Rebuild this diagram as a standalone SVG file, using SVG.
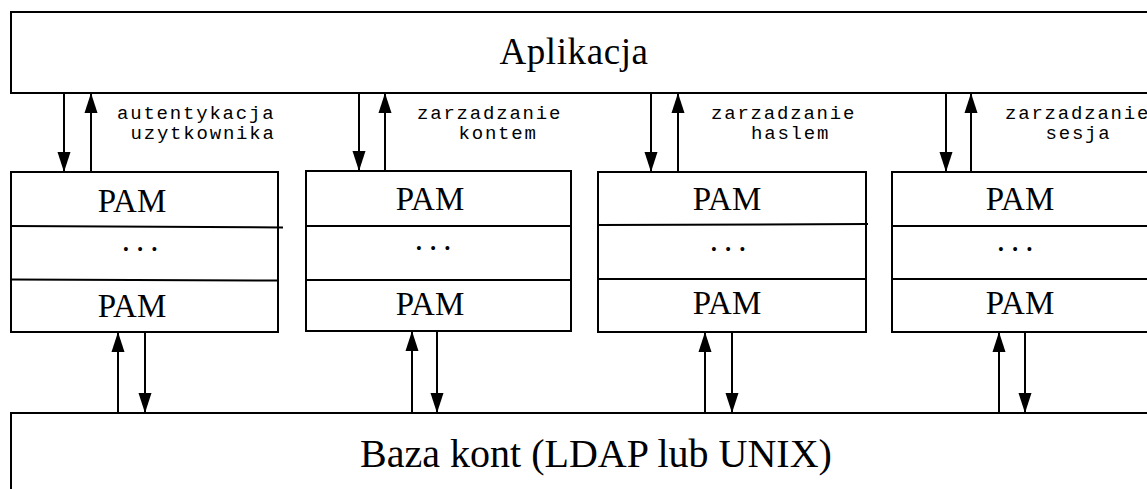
<svg xmlns="http://www.w3.org/2000/svg" width="1147" height="489" viewBox="0 0 1147 489">
  <style>
    .box { fill: #fff; stroke: #000; stroke-width: 2; }
    .div { stroke: #000; stroke-width: 2; fill: none; }
    .serif { font-family: "Liberation Serif", "Times New Roman", serif; fill: #000; }
    .pam { font-size: 33px; text-anchor: middle; }
    .dots { font-size: 33px; text-anchor: middle; letter-spacing: 6px; }
    .mono { font-family: "Liberation Mono", "Courier New", monospace; font-size: 19px; letter-spacing: 1.8px; fill: #000; }
    .conn { stroke: #000; stroke-width: 2; fill: none; marker-end: url(#head); }
  </style>
  <defs>
    <marker id="head" markerUnits="userSpaceOnUse" markerWidth="20" markerHeight="14" viewBox="0 0 20 14" refX="19" refY="7" orient="auto">
      <path d="M0,0.5 L20,7 L0,13.5 Z" fill="#000"/>
    </marker>
  </defs>
  <rect width="1147" height="489" fill="#fff"/>

  <!-- application layer -->
  <g id="aplikacja">
    <rect class="box" x="11" y="12" width="1150" height="81"/>
    <text class="serif" x="574" y="64" font-size="37" text-anchor="middle" letter-spacing="0.6">Aplikacja</text>
  </g>

  <!-- account database -->
  <g id="baza">
    <rect class="box" x="11" y="413" width="1150" height="90"/>
    <text class="serif" x="596" y="467" font-size="40" text-anchor="middle">Baza kont (LDAP lub UNIX)</text>
  </g>

  <!-- PAM module stacks -->
  <g id="pam-auth">
    <rect class="box" x="11" y="172" width="267" height="160"/>
    <path class="div" d="M11,226 L283,227.5 M11,279.5 L278,280.5"/>
    <text class="serif pam" x="132" y="212">PAM</text>
    <text class="serif dots" x="143" y="251">...</text>
    <text class="serif pam" x="132" y="317">PAM</text>
  </g>
  <g id="pam-konto">
    <rect class="box" x="306" y="171" width="265" height="160"/>
    <path class="div" d="M306,226 L571,226 M306,280 L571,280"/>
    <text class="serif pam" x="430" y="210">PAM</text>
    <text class="serif dots" x="436" y="250">...</text>
    <text class="serif pam" x="430" y="315">PAM</text>
  </g>
  <g id="pam-haslo">
    <rect class="box" x="598" y="172" width="268" height="160"/>
    <path class="div" d="M598,225 L868,224 M598,279 L866,279"/>
    <text class="serif pam" x="727" y="210">PAM</text>
    <text class="serif dots" x="731" y="251">...</text>
    <text class="serif pam" x="727" y="314">PAM</text>
  </g>
  <g id="pam-sesja">
    <rect class="box" x="892" y="172" width="270" height="160"/>
    <path class="div" d="M892,226 L1162,226 M892,279 L1162,279"/>
    <text class="serif pam" x="1020" y="210">PAM</text>
    <text class="serif dots" x="1018" y="251">...</text>
    <text class="serif pam" x="1020" y="314">PAM</text>
  </g>

  <!-- interface labels -->
  <g id="labels">
    <text class="mono" x="117" y="119">autentykacja</text>
    <text class="mono" x="130.5" y="139">uzytkownika</text>
    <text class="mono" x="417" y="119">zarzadzanie</text>
    <text class="mono" x="458.5" y="139">kontem</text>
    <text class="mono" x="711" y="119">zarzadzanie</text>
    <text class="mono" x="751" y="139">haslem</text>
    <text class="mono" x="1005" y="119">zarzadzanie</text>
    <text class="mono" x="1045.5" y="139">sesja</text>
  </g>

  <!-- request / response arrows -->
  <g id="connectors">
    <path class="conn" d="M64,94 L64,171"/>
    <path class="conn" d="M91,171 L91,94"/>
    <path class="conn" d="M359,94 L359,170"/>
    <path class="conn" d="M385,170 L385,94"/>
    <path class="conn" d="M651,94 L651,171"/>
    <path class="conn" d="M678,171 L678,94"/>
    <path class="conn" d="M946,94 L946,171"/>
    <path class="conn" d="M971,171 L971,94"/>

    <path class="conn" d="M118,412 L118,333"/>
    <path class="conn" d="M145,333 L145,412"/>
    <path class="conn" d="M412,412 L412,332"/>
    <path class="conn" d="M437,332 L437,412"/>
    <path class="conn" d="M705,412 L705,333"/>
    <path class="conn" d="M732,333 L732,412"/>
    <path class="conn" d="M999,412 L999,333"/>
    <path class="conn" d="M1025,333 L1025,412"/>
  </g>
</svg>
